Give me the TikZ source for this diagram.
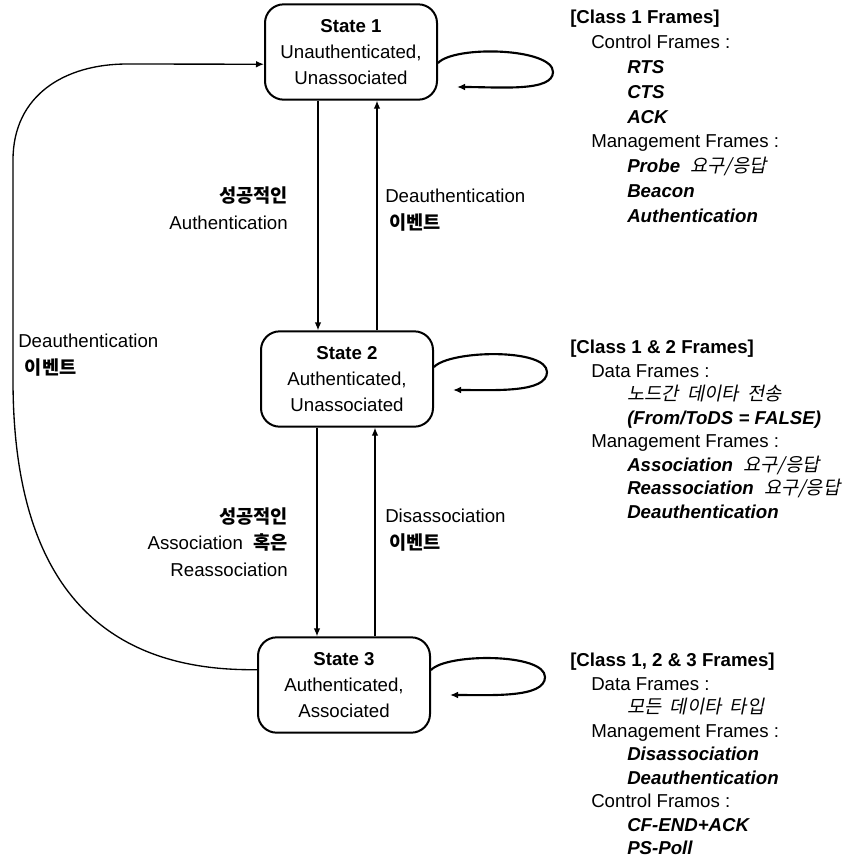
\documentclass[tikz,border=0pt]{standalone}
\usepackage{fontspec}
\setmainfont{Liberation Sans}
\newfontfamily\kr[AutoFakeSlant=0.2]{Noto Sans CJK KR}
\usetikzlibrary{arrows.meta}
\newcommand{\grp}[1]{\hspace*{15.75pt}#1}
\newcommand{\itm}[1]{\hspace*{42.75pt}{\bfseries\itshape #1}}
\tikzset{>={Latex[length=6pt,width=5pt]}, % filled arrow heads
stbox/.style={ % the three states
draw, line width=1.5pt, rounded corners=14pt,
minimum width=129pt, minimum height=71.5pt, inner sep=1pt,
align=center, font=\fontsize{14}{19.5}\selectfont},
flow/.style={->, line width=1pt},
selfloop/.style={->, line width=1.6pt},
lbl/.style={inner sep=0pt, font=\fontsize{14}{20}\selectfont},
frames/.style={anchor=north west, inner sep=0pt, align=left,
font=\fontsize{14}{17.6}\selectfont}}

\begin{document}
\begin{tikzpicture}[x=0.75pt,y=-0.75pt]
    \useasboundingbox (0,0) rectangle (860,865);

    \node[stbox] (s1) at (351,52) {\textbf{State 1}\\Unauthenticated,\\Unassociated};
    \node[stbox] (s2) at (347,379) {\textbf{State 2}\\Authenticated,\\Unassociated};
    \node[stbox] (s3) at (344,685) {\textbf{State 3}\\Authenticated,\\Associated};

    \coordinate (s1back) at (457,87);
    \coordinate (s2back) at (453,390);
    \coordinate (s3back) at (450,695);

    \draw[selfloop] (s1.east |- 0,63) .. controls (455,45) and (553,48) .. (553,72)
        .. controls (553,92) and (500,87) .. (s1back);
    \draw[selfloop] (s2.east |- 0,367) .. controls (450,350) and (547,348) .. (547,372)
        .. controls (547,393) and (495,390) .. (s2back);
    \draw[selfloop] (s3.east |- 0,670) .. controls (447,653) and (545,653) .. (545,677)
        .. controls (545,698) and (492,695) .. (s3back);

    \draw[flow] (s1.south -| 318,0) -- (s2.north -| 318,0);
    \draw[flow] (s2.north -| 377,0) -- (s1.south -| 377,0);
    \draw[flow] (s2.south -| 317,0) -- (s3.north -| 317,0);
    \draw[flow] (s3.north -| 375,0) -- (s2.south -| 375,0);

    \draw[flow] (s3.170) .. controls (90,672) and (13,570) .. (13,380) -- (13,160)
        .. controls (13,95) and (65,64) .. (127,64) -- (s1.188);

    \node[lbl, anchor=east, align=right] (authok) at (288,208) {{\kr\bfseries 성공적인}\\Authentication};
    \node[lbl, anchor=west, align=left] (deauthup) at (385,210) {Deauthentication\\\hspace*{3pt}{\kr\bfseries 이벤트}};
    \node[lbl, anchor=west, align=left] (deauthleft) at (18,355) {Deauthentication\\\hspace*{5pt}{\kr\bfseries 이벤트}};
    \node[lbl, anchor=east, align=right] (assocok) at (288,542) {{\kr\bfseries 성공적인}\\Association\ \ {\kr\bfseries 혹은}\\Reassociation};
    \node[lbl, anchor=west, align=left] (disassoc) at (385,530) {Disassociation\\\hspace*{3pt}{\kr\bfseries 이벤트}};

    \node[frames, font=\fontsize{14}{18.6}\selectfont] (class1) at (570,10) {\textbf{[Class 1 Frames]}\\
        \grp{Control Frames :}\\
        \itm{RTS}\\
        \itm{CTS}\\
        \itm{ACK}\\
        \grp{Management Frames :}\\
        \itm{Probe\ \ {\kr\mdseries 요구/응답}}\\
        \itm{Beacon}\\
        \itm{Authentication}};
    \node[frames] (class2) at (570,340) {\textbf{[Class 1 \& 2 Frames]}\\
        \grp{Data Frames :}\\
        \itm{{\kr\mdseries 노드간\ \ 데이타\ \ 전송}}\\
        \itm{(From/ToDS = FALSE)}\\
        \grp{Management Frames :}\\
        \itm{Association\ \ {\kr\mdseries 요구/응답}}\\
        \itm{Reassociation\ \ {\kr\mdseries 요구/응답}}\\
        \itm{Deauthentication}};
    \node[frames] (class3) at (570,653) {\textbf{[Class 1, 2 \& 3 Frames]}\\
        \grp{Data Frames :}\\
        \itm{{\kr\mdseries 모든\ \ 데이타\ \ 타입}}\\
        \grp{Management Frames :}\\
        \itm{Disassociation}\\
        \itm{Deauthentication}\\
        \grp{Control Framos :}\\
        \itm{CF-END+ACK}\\
        \itm{PS-Poll}};

\end{tikzpicture}
\end{document}
